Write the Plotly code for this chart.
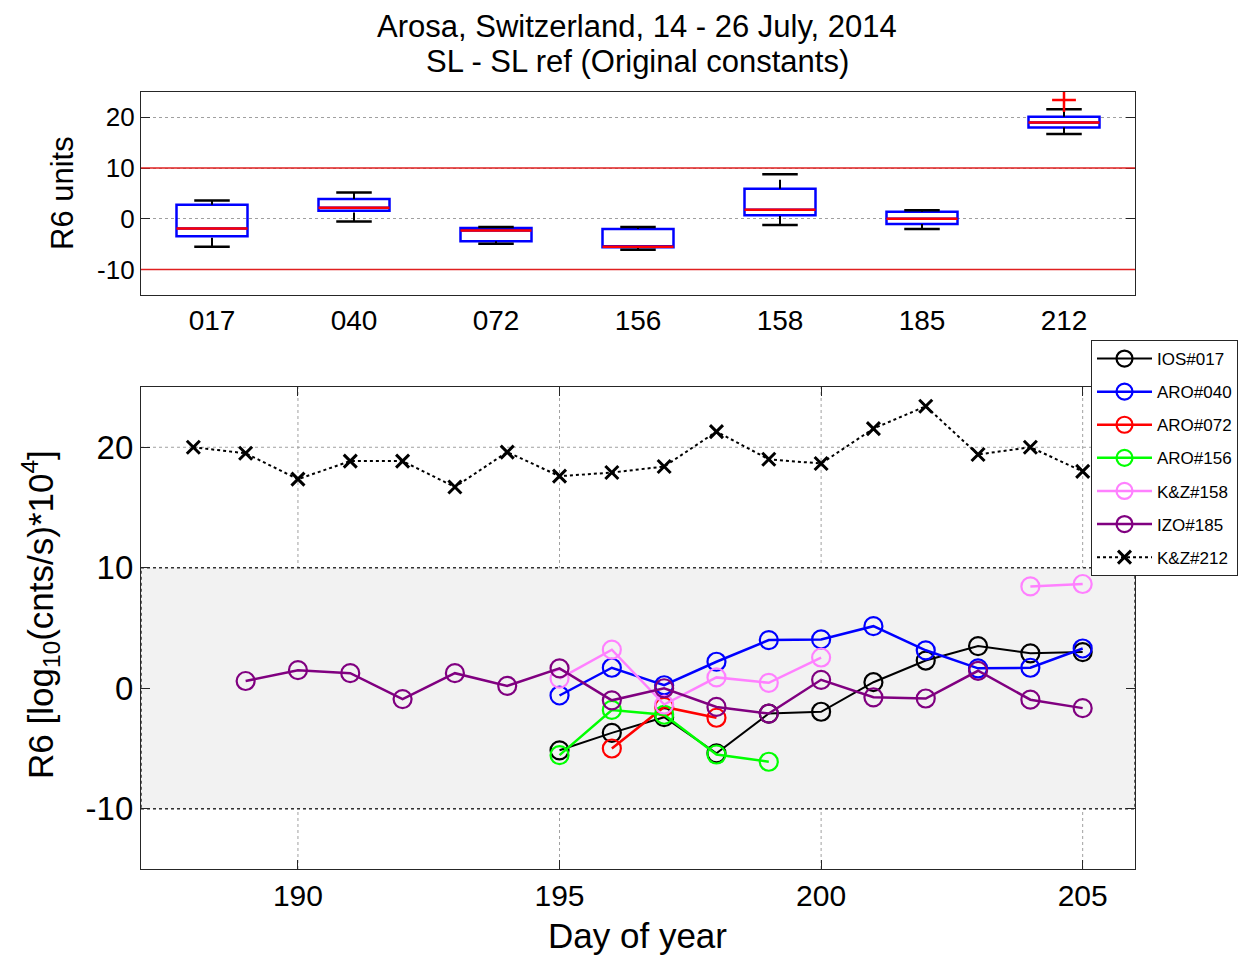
import plotly.graph_objects as go

# ---- top panel: box statistics per Brewer instrument (R6 units) ----
brewer_ids = ["017", "040", "072", "156", "158", "185", "212"]
box_pos = [1, 2, 3, 4, 5, 6, 7]
box_q1 = [-3.4, 1.6, -4.4, -5.6, 0.7, -1.0, 18.0]
box_median = [-1.9, 2.2, -2.3, -5.5, 1.8, 0.0, 19.0]
box_q3 = [2.8, 3.9, -1.8, -2.0, 5.95, 1.4, 20.1]
whisker_lo = [-5.5, -0.5, -4.9, -6.1, -1.2, -2.0, 16.7]
whisker_hi = [3.6, 5.2, -1.6, -1.6, 8.8, 1.7, 21.6]
outlier_pos = [7]
outlier_val = [23.4]
limit_levels = [-10, 10]

# ---- bottom panel: daily R6 differences ----
ios017_days = [195, 196, 197, 198, 199, 200, 201, 202, 203, 204, 205]
ios017_vals = [-5.15, -3.7, -2.4, -5.4, -2.1, -1.95, 0.5, 2.3, 3.5, 2.9, 3.0]

aro040_days = [195, 196, 197, 198, 199, 200, 201, 202, 203, 204, 205]
aro040_vals = [-0.6, 1.7, 0.25, 2.2, 4.0, 4.05, 5.15, 3.15, 1.65, 1.7, 3.3]

aro072_days = [196, 197, 198]
aro072_vals = [-5.0, -1.55, -2.45]

aro156_days = [195, 196, 197, 198, 199]
aro156_vals = [-5.55, -1.8, -2.2, -5.5, -6.1]

kz158_days = [195, 196, 197, 198, 199, 200, 201, 202, 203, 204, 205]
kz158_vals = [0.8, 3.2, -1.35, 0.9, 0.45, 2.55, None, None, None, 8.45, 8.65]

izo185_days = [189, 190, 191, 192, 193, 194, 195, 196, 197, 198, 199, 200,
               201, 202, 203, 204, 205]
izo185_vals = [0.6, 1.5, 1.25, -0.9, 1.25, 0.2, 1.65, -1.0, 0.0, -1.55, -2.1,
               0.7, -0.75, -0.85, 1.45, -0.95, -1.65]

kz212_days = [188, 189, 190, 191, 192, 193, 194, 195, 196, 197, 198, 199,
              200, 201, 202, 203, 204, 205]
kz212_vals = [20.0, 19.5, 17.35, 18.85, 18.85, 16.7, 19.6, 17.6, 17.9, 18.4,
              21.3, 19.0, 18.65, 21.55, 23.4, 19.4, 20.0, 18.0]

day_ticks = [190, 195, 200, 205]
r6_ticks = [-10, 0, 10, 20]
r6_ticktext = ["-10", "0", "10", "20"]

FONT = "Liberation Sans, Arial, sans-serif"
FRAME = "#262626"
GRID = "#a0a0a0"

fig = go.Figure()

# whiskers (dashed stems + solid caps)
box_w = 0.5
cap_w = 0.25
stem_x, stem_y, cap_x, cap_y = [], [], [], []
for p, lo, q1, q3, hi in zip(box_pos, whisker_lo, box_q1, box_q3, whisker_hi):
    stem_x += [p, p, None, p, p, None]
    stem_y += [q3, hi, None, lo, q1, None]
    cap_x += [p - cap_w / 2, p + cap_w / 2, None, p - cap_w / 2, p + cap_w / 2, None]
    cap_y += [hi, hi, None, lo, lo, None]

fig.add_trace(go.Scatter(x=stem_x, y=stem_y, mode="lines", xaxis="x", yaxis="y",
                         line=dict(color="black", width=2, dash="dash"),
                         showlegend=False, hoverinfo="skip"))
fig.add_trace(go.Scatter(x=cap_x, y=cap_y, mode="lines", xaxis="x", yaxis="y",
                         line=dict(color="black", width=2.5),
                         showlegend=False, hoverinfo="skip"))

# boxes
fig.add_trace(go.Box(x=box_pos, q1=box_q1, median=box_median, q3=box_q3,
                     lowerfence=box_q1, upperfence=box_q3, width=box_w,
                     xaxis="x", yaxis="y", boxpoints=False,
                     line=dict(color="#0000ff", width=2.5),
                     fillcolor="rgba(0,0,0,0)", whiskerwidth=0,
                     showlegend=False, hoverinfo="skip"))

# medians in red
med_x, med_y = [], []
for p, m in zip(box_pos, box_median):
    med_x += [p - box_w / 2, p + box_w / 2, None]
    med_y += [m, m, None]
fig.add_trace(go.Scatter(x=med_x, y=med_y, mode="lines", xaxis="x", yaxis="y",
                         line=dict(color="#ff0000", width=2.5),
                         showlegend=False, hoverinfo="skip"))

# outliers
fig.add_trace(go.Scatter(x=outlier_pos, y=outlier_val, mode="markers",
                         xaxis="x", yaxis="y",
                         marker=dict(symbol="cross-thin", size=17,
                                     line=dict(color="#ff0000", width=2.5)),
                         showlegend=False, hoverinfo="skip"))

# daily series
series = [
    ("IOS#017", ios017_days, ios017_vals, "#000000", 2),
    ("ARO#040", aro040_days, aro040_vals, "#0000ff", 2.5),
    ("ARO#072", aro072_days, aro072_vals, "#ff0000", 2.5),
    ("ARO#156", aro156_days, aro156_vals, "#00ff00", 2.5),
    ("K&Z#158", kz158_days, kz158_vals, "#ff80ff", 2.5),
    ("IZO#185", izo185_days, izo185_vals, "#800080", 2.5),
]
for name, d, v, col, lw in series:
    fig.add_trace(go.Scatter(x=d, y=v, name=name, legendgroup=name,
                             mode="lines+markers", xaxis="x2", yaxis="y2",
                             line=dict(color=col, width=lw),
                             marker=dict(symbol="circle-open", size=18,
                                         color=col, line=dict(width=2.2))))

fig.add_trace(go.Scatter(x=kz212_days, y=kz212_vals, name="K&Z#212",
                         legendgroup="K&Z#212", mode="lines+markers",
                         xaxis="x2", yaxis="y2",
                         line=dict(color="black", width=2, dash="dot"),
                         marker=dict(symbol="x-thin", size=13,
                                     line=dict(color="black", width=3))))

x_dom = [141 / 1253, 1135 / 1253]
axis_common = dict(showline=True, linecolor=FRAME, linewidth=1.2, mirror="ticks",
                   zeroline=False, tickcolor=FRAME, ticks="inside", ticklen=9,
                   tickwidth=1.2, gridcolor=GRID, griddash="dot", gridwidth=1)

fig.update_layout(
    width=1253, height=955, autosize=False,
    margin=dict(l=0, r=0, t=0, b=0),
    paper_bgcolor="white", plot_bgcolor="white",
    font=dict(family=FONT, color="black"),
    xaxis=dict(domain=x_dom, anchor="y", range=[0.5, 7.5],
               tickvals=box_pos, ticktext=brewer_ids,
               showgrid=False, tickfont=dict(size=28),
               **{**axis_common, "ticks": ""}),
    yaxis=dict(domain=[1 - 295 / 955, 1 - 92 / 955], anchor="x",
               range=[-15, 25], tickvals=r6_ticks, ticktext=r6_ticktext,
               showgrid=True, tickfont=dict(size=26), **axis_common),
    xaxis2=dict(domain=x_dom, anchor="y2", range=[187, 206],
                tickvals=day_ticks, showgrid=False,
                tickfont=dict(size=30), **axis_common),
    yaxis2=dict(domain=[1 - 869 / 955, 1 - 387 / 955], anchor="x2",
                range=[-15, 25], tickvals=r6_ticks, ticktext=r6_ticktext,
                showgrid=False, tickfont=dict(size=33), **axis_common),
    legend=dict(x=1091 / 1253, y=1 - 340 / 955, xanchor="left", yanchor="top",
                bgcolor="white", bordercolor=FRAME, borderwidth=1,
                font=dict(size=17, family=FONT), tracegroupgap=8,
                itemwidth=55),
    showlegend=True,
)

# acceptable-range limits in the top panel
for lvl in limit_levels:
    fig.add_shape(type="line", xref="x domain", yref="y", x0=0, x1=1,
                  y0=lvl, y1=lvl, line=dict(color="#e02020", width=1.5))

# bottom-panel grid, drawn under the shaded band
for d in day_ticks:
    fig.add_shape(type="line", xref="x2", yref="y2 domain", x0=d, x1=d,
                  y0=0, y1=1, layer="below",
                  line=dict(color=GRID, width=1, dash="dot"))
for r in r6_ticks:
    fig.add_shape(type="line", xref="x2 domain", yref="y2", x0=0, x1=1,
                  y0=r, y1=r, layer="below",
                  line=dict(color=GRID, width=1, dash="dot"))

# shaded acceptable band in the bottom panel
fig.add_shape(type="rect", xref="x2 domain", yref="y2", x0=0, x1=1,
              y0=limit_levels[0], y1=limit_levels[1], layer="below",
              fillcolor="#f2f2f2", line=dict(color="#333333", width=1.5, dash="dot"))

fig.add_annotation(text="Arosa, Switzerland, 14 - 26 July, 2014", xref="paper",
                   yref="paper", x=637 / 1253, y=1 - 26 / 955, showarrow=False,
                   xanchor="center", yanchor="middle", font=dict(size=31))
fig.add_annotation(text="SL - SL ref (Original constants)", xref="paper",
                   yref="paper", x=637 / 1253, y=1 - 61 / 955, showarrow=False,
                   xanchor="center", yanchor="middle", font=dict(size=31))
fig.add_annotation(text="R6 units", xref="paper", yref="paper",
                   x=62 / 1253, y=1 - 193 / 955, textangle=-90, showarrow=False,
                   xanchor="center", yanchor="middle", font=dict(size=31))
fig.add_annotation(text="R6 [log<sub>10</sub>(cnts/s)*10<sup>4</sup>]",
                   xref="paper", yref="paper", x=40 / 1253, y=1 - 615 / 955,
                   textangle=-90, showarrow=False, xanchor="center",
                   yanchor="middle", font=dict(size=35))
fig.add_annotation(text="Day of year", xref="paper", yref="paper",
                   x=637 / 1253, y=1 - 935 / 955, showarrow=False,
                   xanchor="center", yanchor="middle", font=dict(size=35))

fig.write_html("out.html")
